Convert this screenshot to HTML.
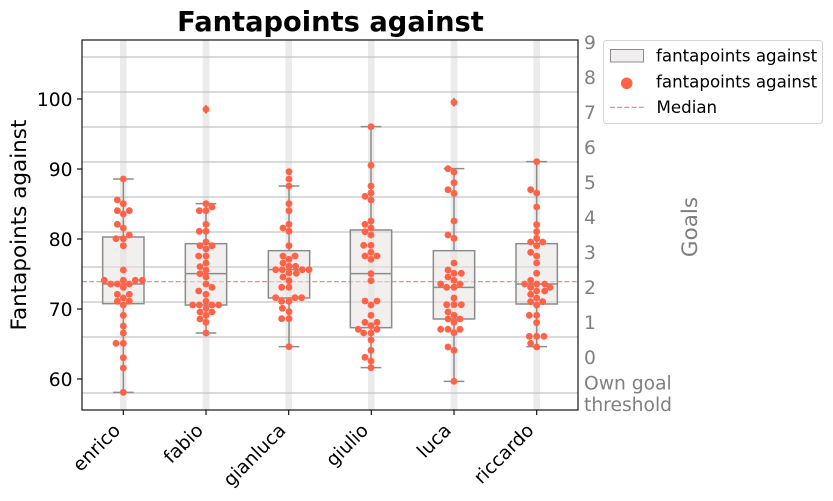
<!DOCTYPE html>
<html><head><meta charset="utf-8"><style>
html,body{margin:0;padding:0;background:#fff;}
svg{display:block;}
text{font-family:"DejaVu Sans","Liberation Sans",sans-serif;}
.d{fill:#ff6347;}
</style></head><body>
<svg width="833" height="501" viewBox="0 0 833 501" xmlns="http://www.w3.org/2000/svg">
<rect x="0" y="0" width="833" height="501" fill="#fff"/>
<!-- vertical bands -->
<g fill="#ebebeb">
<rect x="120" y="40" width="6.6" height="370"/>
<rect x="202.7" y="40" width="6.6" height="370"/>
<rect x="285.4" y="40" width="6.6" height="370"/>
<rect x="368" y="40" width="6.6" height="370"/>
<rect x="450.7" y="40" width="6.6" height="370"/>
<rect x="533.4" y="40" width="6.6" height="370"/>
</g>
<!-- grid lines -->
<g stroke="#c4c4c4" stroke-width="1.2">
<line x1="82" x2="578" y1="57" y2="57"/>
<line x1="82" x2="578" y1="92" y2="92"/>
<line x1="82" x2="578" y1="127" y2="127"/>
<line x1="82" x2="578" y1="162" y2="162"/>
<line x1="82" x2="578" y1="197" y2="197"/>
<line x1="82" x2="578" y1="232" y2="232"/>
<line x1="82" x2="578" y1="267" y2="267"/>
<line x1="82" x2="578" y1="302" y2="302"/>
<line x1="82" x2="578" y1="337" y2="337"/>
<line x1="82" x2="578" y1="393" y2="393"/>
</g>
<!-- median line -->
<line x1="82" x2="578" y1="281.7" y2="281.7" stroke="#f08080" stroke-width="1.1" stroke-dasharray="5,2.2"/>

<!-- group enrico & fabio -->
<g transform="translate(82,160) scale(0.333333)">
<g fill="#e8e2e2" fill-opacity="0.55" stroke="#8c8c8c" stroke-width="4.5">
<rect x="62" y="231" width="124" height="200"/>
<rect x="310" y="251" width="124" height="184"/>
</g>
<g stroke="#8c8c8c" stroke-width="4.5" fill="none">
<line x1="62" x2="186" y1="372" y2="372"/>
<line x1="124" x2="124" y1="231" y2="57"/><line x1="124" x2="124" y1="431" y2="697"/>
<line x1="93" x2="155" y1="57" y2="57"/><line x1="93" x2="155" y1="697" y2="697"/>
<line x1="310" x2="434" y1="341" y2="341"/>
<line x1="372" x2="372" y1="251" y2="131"/><line x1="372" x2="372" y1="435" y2="519"/>
<line x1="341" x2="403" y1="131" y2="131"/><line x1="341" x2="403" y1="519" y2="519"/>
</g>
<g class="d">
<circle cx="124" cy="57" r="10.3"/><circle cx="106" cy="120" r="10.3"/><circle cx="124" cy="131" r="10.3"/><circle cx="106" cy="152" r="10.3"/><circle cx="124" cy="162" r="10.3"/><circle cx="142" cy="152" r="10.3"/><circle cx="106" cy="193" r="10.3"/><circle cx="124" cy="204" r="10.3"/><circle cx="102" cy="236" r="10.3"/><circle cx="124" cy="236" r="10.3"/><circle cx="142" cy="225" r="10.3"/><circle cx="124" cy="257" r="10.3"/><circle cx="124" cy="330" r="10.3"/><circle cx="67" cy="361" r="10.3"/><circle cx="124" cy="361" r="10.3"/><circle cx="160" cy="361" r="10.3"/><circle cx="181" cy="361" r="10.3"/><circle cx="86" cy="372" r="10.3"/><circle cx="106" cy="372" r="10.3"/><circle cx="142" cy="372" r="10.3"/><circle cx="124" cy="382" r="10.3"/><circle cx="106" cy="403" r="10.3"/><circle cx="124" cy="414" r="10.3"/><circle cx="142" cy="403" r="10.3"/><circle cx="106" cy="424" r="10.3"/><circle cx="124" cy="435" r="10.3"/><circle cx="142" cy="424" r="10.3"/><circle cx="124" cy="466" r="10.3"/><circle cx="124" cy="498" r="10.3"/><circle cx="124" cy="519" r="10.3"/><circle cx="102" cy="550" r="10.3"/><circle cx="124" cy="550" r="10.3"/><circle cx="124" cy="593" r="10.3"/><circle cx="124" cy="624" r="10.3"/><circle cx="124" cy="697" r="10.3"/>
<circle cx="372" cy="131" r="10.3"/><circle cx="352" cy="152" r="10.3"/><circle cx="372" cy="152" r="10.3"/><circle cx="390" cy="141" r="10.3"/><circle cx="372" cy="193" r="10.3"/><circle cx="352" cy="214" r="10.3"/><circle cx="372" cy="214" r="10.3"/><circle cx="372" cy="246" r="10.3"/><circle cx="354" cy="257" r="10.3"/><circle cx="390" cy="257" r="10.3"/><circle cx="372" cy="267" r="10.3"/><circle cx="350" cy="288" r="10.3"/><circle cx="372" cy="288" r="10.3"/><circle cx="372" cy="309" r="10.3"/><circle cx="354" cy="320" r="10.3"/><circle cx="372" cy="330" r="10.3"/><circle cx="354" cy="341" r="10.3"/><circle cx="372" cy="351" r="10.3"/><circle cx="372" cy="372" r="10.3"/><circle cx="350" cy="393" r="10.3"/><circle cx="390" cy="382" r="10.3"/><circle cx="372" cy="403" r="10.3"/><circle cx="372" cy="424" r="10.3"/><circle cx="332" cy="435" r="10.3"/><circle cx="352" cy="435" r="10.3"/><circle cx="390" cy="435" r="10.3"/><circle cx="410" cy="435" r="10.3"/><circle cx="372" cy="445" r="10.3"/><circle cx="354" cy="456" r="10.3"/><circle cx="372" cy="466" r="10.3"/><circle cx="390" cy="456" r="10.3"/><circle cx="354" cy="477" r="10.3"/><circle cx="372" cy="487" r="10.3"/><circle cx="372" cy="519" r="10.3"/>
</g>
</g>

<!-- group gianluca & giulio -->
<g transform="translate(247,115) scale(0.333333)">
<g fill="#e8e2e2" fill-opacity="0.55" stroke="#8c8c8c" stroke-width="4.5">
<rect x="64" y="407" width="124" height="142"/>
<rect x="310" y="345" width="124" height="293"/>
</g>
<g stroke="#8c8c8c" stroke-width="4.5" fill="none">
<line x1="64" x2="188" y1="464" y2="464"/>
<line x1="126" x2="126" y1="407" y2="213"/><line x1="126" x2="126" y1="549" y2="695"/>
<line x1="95" x2="157" y1="213" y2="213"/><line x1="95" x2="157" y1="695" y2="695"/>
<line x1="310" x2="434" y1="476" y2="476"/>
<line x1="372" x2="372" y1="345" y2="35"/><line x1="372" x2="372" y1="638" y2="758"/>
<line x1="341" x2="403" y1="35" y2="35"/><line x1="341" x2="403" y1="758" y2="758"/>
</g>
<g class="d">
<circle cx="126" cy="170" r="10.3"/><circle cx="126" cy="192" r="10.3"/><circle cx="126" cy="213" r="10.3"/><circle cx="126" cy="266" r="10.3"/><circle cx="126" cy="287" r="10.3"/><circle cx="126" cy="328" r="10.3"/><circle cx="108" cy="339" r="10.3"/><circle cx="126" cy="349" r="10.3"/><circle cx="126" cy="392" r="10.3"/><circle cx="108" cy="423" r="10.3"/><circle cx="126" cy="433" r="10.3"/><circle cx="144" cy="423" r="10.3"/><circle cx="108" cy="444" r="10.3"/><circle cx="126" cy="454" r="10.3"/><circle cx="146" cy="454" r="10.3"/><circle cx="86" cy="464" r="10.3"/><circle cx="106" cy="464" r="10.3"/><circle cx="166" cy="464" r="10.3"/><circle cx="186" cy="464" r="10.3"/><circle cx="126" cy="474" r="10.3"/><circle cx="148" cy="475" r="10.3"/><circle cx="108" cy="486" r="10.3"/><circle cx="126" cy="497" r="10.3"/><circle cx="104" cy="517" r="10.3"/><circle cx="126" cy="517" r="10.3"/><circle cx="86" cy="548" r="10.3"/><circle cx="104" cy="559" r="10.3"/><circle cx="126" cy="559" r="10.3"/><circle cx="144" cy="548" r="10.3"/><circle cx="164" cy="548" r="10.3"/><circle cx="106" cy="580" r="10.3"/><circle cx="126" cy="590" r="10.3"/><circle cx="104" cy="611" r="10.3"/><circle cx="126" cy="611" r="10.3"/><circle cx="126" cy="695" r="10.3"/>
<circle cx="372" cy="35" r="10.3"/><circle cx="372" cy="151" r="10.3"/><circle cx="372" cy="213" r="10.3"/><circle cx="354" cy="244" r="10.3"/><circle cx="372" cy="234" r="10.3"/><circle cx="372" cy="255" r="10.3"/><circle cx="372" cy="318" r="10.3"/><circle cx="354" cy="328" r="10.3"/><circle cx="372" cy="339" r="10.3"/><circle cx="354" cy="350" r="10.3"/><circle cx="372" cy="360" r="10.3"/><circle cx="350" cy="391" r="10.3"/><circle cx="372" cy="391" r="10.3"/><circle cx="372" cy="412" r="10.3"/><circle cx="354" cy="423" r="10.3"/><circle cx="372" cy="433" r="10.3"/><circle cx="390" cy="423" r="10.3"/><circle cx="372" cy="476" r="10.3"/><circle cx="372" cy="497" r="10.3"/><circle cx="354" cy="558" r="10.3"/><circle cx="372" cy="570" r="10.3"/><circle cx="390" cy="558" r="10.3"/><circle cx="372" cy="601" r="10.3"/><circle cx="354" cy="622" r="10.3"/><circle cx="372" cy="632" r="10.3"/><circle cx="390" cy="622" r="10.3"/><circle cx="334" cy="643" r="10.3"/><circle cx="350" cy="654" r="10.3"/><circle cx="372" cy="654" r="10.3"/><circle cx="390" cy="643" r="10.3"/><circle cx="372" cy="675" r="10.3"/><circle cx="372" cy="706" r="10.3"/><circle cx="354" cy="727" r="10.3"/><circle cx="372" cy="738" r="10.3"/><circle cx="372" cy="758" r="10.3"/>
</g>
</g>

<!-- group luca & riccardo -->
<g transform="translate(412,150) scale(0.333333)">
<g fill="#e8e2e2" fill-opacity="0.55" stroke="#8c8c8c" stroke-width="4.5">
<rect x="64" y="302" width="124" height="205"/>
<rect x="312" y="281" width="124" height="181"/>
</g>
<g stroke="#8c8c8c" stroke-width="4.5" fill="none">
<line x1="64" x2="188" y1="412" y2="412"/>
<line x1="126" x2="126" y1="302" y2="56"/><line x1="126" x2="126" y1="507" y2="694"/>
<line x1="95" x2="157" y1="56" y2="56"/><line x1="95" x2="157" y1="694" y2="694"/>
<line x1="312" x2="436" y1="402" y2="402"/>
<line x1="374" x2="374" y1="281" y2="35"/><line x1="374" x2="374" y1="462" y2="590"/>
<line x1="343" x2="405" y1="35" y2="35"/><line x1="343" x2="405" y1="590" y2="590"/>
</g>
<g class="d">
<circle cx="108" cy="56" r="10.3"/><circle cx="126" cy="66" r="10.3"/><circle cx="126" cy="98" r="10.3"/><circle cx="108" cy="119" r="10.3"/><circle cx="126" cy="130" r="10.3"/><circle cx="126" cy="213" r="10.3"/><circle cx="108" cy="255" r="10.3"/><circle cx="126" cy="265" r="10.3"/><circle cx="126" cy="339" r="10.3"/><circle cx="108" cy="360" r="10.3"/><circle cx="126" cy="370" r="10.3"/><circle cx="148" cy="370" r="10.3"/><circle cx="108" cy="381" r="10.3"/><circle cx="126" cy="391" r="10.3"/><circle cx="86" cy="402" r="10.3"/><circle cx="104" cy="412" r="10.3"/><circle cx="126" cy="412" r="10.3"/><circle cx="144" cy="402" r="10.3"/><circle cx="126" cy="444" r="10.3"/><circle cx="104" cy="464" r="10.3"/><circle cx="126" cy="464" r="10.3"/><circle cx="148" cy="464" r="10.3"/><circle cx="108" cy="486" r="10.3"/><circle cx="126" cy="496" r="10.3"/><circle cx="144" cy="507" r="10.3"/><circle cx="108" cy="507" r="10.3"/><circle cx="126" cy="517" r="10.3"/><circle cx="86" cy="538" r="10.3"/><circle cx="108" cy="538" r="10.3"/><circle cx="126" cy="548" r="10.3"/><circle cx="144" cy="538" r="10.3"/><circle cx="108" cy="591" r="10.3"/><circle cx="126" cy="601" r="10.3"/><circle cx="126" cy="694" r="10.3"/>
<circle cx="374" cy="35" r="10.3"/><circle cx="356" cy="119" r="10.3"/><circle cx="374" cy="129" r="10.3"/><circle cx="374" cy="171" r="10.3"/><circle cx="374" cy="224" r="10.3"/><circle cx="374" cy="245" r="10.3"/><circle cx="374" cy="265" r="10.3"/><circle cx="356" cy="276" r="10.3"/><circle cx="392" cy="276" r="10.3"/><circle cx="374" cy="287" r="10.3"/><circle cx="356" cy="307" r="10.3"/><circle cx="374" cy="318" r="10.3"/><circle cx="374" cy="339" r="10.3"/><circle cx="374" cy="370" r="10.3"/><circle cx="338" cy="402" r="10.3"/><circle cx="356" cy="391" r="10.3"/><circle cx="356" cy="412" r="10.3"/><circle cx="374" cy="402" r="10.3"/><circle cx="398" cy="402" r="10.3"/><circle cx="414" cy="412" r="10.3"/><circle cx="374" cy="423" r="10.3"/><circle cx="398" cy="423" r="10.3"/><circle cx="356" cy="433" r="10.3"/><circle cx="374" cy="444" r="10.3"/><circle cx="356" cy="455" r="10.3"/><circle cx="374" cy="465" r="10.3"/><circle cx="392" cy="455" r="10.3"/><circle cx="352" cy="496" r="10.3"/><circle cx="374" cy="496" r="10.3"/><circle cx="374" cy="518" r="10.3"/><circle cx="352" cy="559" r="10.3"/><circle cx="374" cy="559" r="10.3"/><circle cx="396" cy="559" r="10.3"/><circle cx="356" cy="580" r="10.3"/><circle cx="374" cy="591" r="10.3"/>
</g>
</g>

<!-- outliers -->
<polygon points="206,104.5 209.5,109.3 206,114.1 202.5,109.3" fill="#7a7a7a"/>
<circle cx="206" cy="109.3" r="3.4" class="d"/>
<polygon points="454,97.5 457.5,102.3 454,107.1 450.5,102.3" fill="#7a7a7a"/>
<circle cx="454" cy="102.3" r="3.4" class="d"/>

<!-- spines -->
<rect x="82" y="40" width="496" height="370" fill="none" stroke="#000" stroke-width="1.1"/>

<!-- ticks -->
<g stroke="#000" stroke-width="1.1">
<line x1="77" x2="82" y1="99" y2="99"/><line x1="77" x2="82" y1="169" y2="169"/><line x1="77" x2="82" y1="239" y2="239"/><line x1="77" x2="82" y1="309" y2="309"/><line x1="77" x2="82" y1="379" y2="379"/>
<line x1="123.3" x2="123.3" y1="410" y2="415"/><line x1="206" x2="206" y1="410" y2="415"/><line x1="288.7" x2="288.7" y1="410" y2="415"/><line x1="371.3" x2="371.3" y1="410" y2="415"/><line x1="454" x2="454" y1="410" y2="415"/><line x1="536.7" x2="536.7" y1="410" y2="415"/>
</g>
<g font-size="18.7" fill="#000" text-anchor="end">
<text x="72.5" y="105.8">100</text>
<text x="72.5" y="175.8">90</text>
<text x="72.5" y="245.8">80</text>
<text x="72.5" y="315.8">70</text>
<text x="72.5" y="385.8">60</text>
</g>
<!-- x tick labels -->
<g font-size="18.7" fill="#000" text-anchor="end">
<text transform="translate(121.5,431.5) rotate(-45)">enrico</text>
<text transform="translate(204.2,431.5) rotate(-45)">fabio</text>
<text transform="translate(286.9,431.5) rotate(-45)">gianluca</text>
<text transform="translate(369.5,431.5) rotate(-45)">giulio</text>
<text transform="translate(452.2,431.5) rotate(-45)">luca</text>
<text transform="translate(534.9,431.5) rotate(-45)">riccardo</text>
</g>
<!-- right tick labels -->
<g font-size="18.7" fill="#808080">
<text x="584" y="48.8">9</text>
<text x="584" y="83.8">8</text>
<text x="584" y="118.8">7</text>
<text x="584" y="153.8">6</text>
<text x="584" y="188.8">5</text>
<text x="584" y="223.8">4</text>
<text x="584" y="258.8">3</text>
<text x="584" y="293.8">2</text>
<text x="584" y="328.8">1</text>
<text x="584" y="363.8">0</text>
<text x="584" y="389.5">Own goal</text>
<text x="584" y="411">threshold</text>
</g>
<!-- axis labels -->
<text transform="translate(26,225) rotate(-90)" font-size="21.5" text-anchor="middle" fill="#000">Fantapoints against</text>
<text transform="translate(697,227) rotate(-90)" font-size="21.5" text-anchor="middle" fill="#808080">Goals</text>
<!-- title -->
<text x="330.5" y="31" font-size="27.3" font-weight="bold" text-anchor="middle" fill="#000">Fantapoints against</text>

<!-- legend -->
<rect x="603.5" y="40.5" width="219" height="83" rx="3" ry="3" fill="#fff" fill-opacity="0.85" stroke="#d4d4d4" stroke-width="1"/>
<rect x="610.5" y="49.5" width="33" height="12.5" fill="#f0eeee" stroke="#8c8c8c" stroke-width="1"/>
<circle cx="626.7" cy="83.3" r="5.8" class="d"/>
<line x1="610" x2="644" y1="107.3" y2="107.3" stroke="#f08080" stroke-width="1.1" stroke-dasharray="5,2.2"/>
<g font-size="16.67" fill="#000">
<text x="656" y="61.7">fantapoints against</text>
<text x="656" y="87.4">fantapoints against</text>
<text x="656.5" y="113.2">Median</text>
</g>
</svg>
</body></html>
